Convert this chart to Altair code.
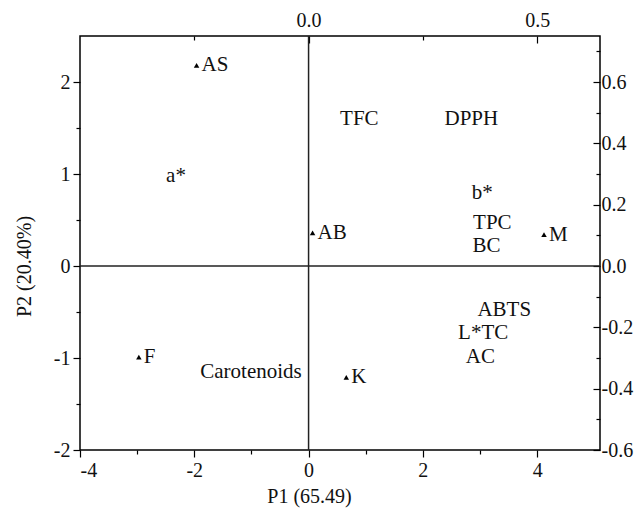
import altair as alt
import pandas as pd

# Scores (samples) on P1/P2
score_names = ["AS", "AB", "M", "F", "K"]
score_p1 = [-1.96, 0.07, 4.12, -2.97, 0.66]
score_p2 = [2.18, 0.36, 0.34, -0.99, -1.21]

# Loadings (variables) on top/right axes
load_names = ["TFC", "DPPH", "b*", "TPC", "BC", "ABTS", "L*TC", "AC", "Carotenoids", "a*"]
load_l1 = [0.111, 0.356, 0.380, 0.402, 0.389, 0.428, 0.382, 0.376, -0.126, -0.290]
load_l2 = [0.478, 0.478, 0.237, 0.140, 0.066, -0.143, -0.218, -0.296, -0.345, 0.293]

x_ticks = [-4, -3, -2, -1, 0, 1, 2, 3, 4]
y_ticks = [-2, -1.5, -1, -0.5, 0, 0.5, 1, 1.5, 2]
top_ticks = [-0.25, 0, 0.25, 0.5]
right_ticks = [-0.6, -0.5, -0.4, -0.3, -0.2, -0.1, 0, 0.1, 0.2, 0.3, 0.4, 0.5, 0.6, 0.7]
zero = [0]

FONT = "Liberation Serif"
FS = 20
TFS = 21
MINUS = "\u2212"

scores = pd.DataFrame({"name": score_names, "P1": score_p1, "P2": score_p2})
loads = pd.DataFrame({"name": load_names, "L1": load_l1, "L2": load_l2})
zeros = pd.DataFrame({"z": zero})

xs = alt.Scale(domain=[-4, 5.1], nice=False, zero=False)
ys = alt.Scale(domain=[-2, 2.5], nice=False, zero=False)
xs2 = alt.Scale(domain=[-0.5, 0.6375], nice=False, zero=False)
ys2 = alt.Scale(domain=[-0.6, 0.75], nice=False, zero=False)

x_axis = alt.Axis(
    values=x_ticks, orient="bottom", title="P1 (65.49)", grid=False,
    labelExpr="datum.value % 2 === 0 ? '' + datum.value : ''",
    tickSize={"condition": {"test": "datum.value % 2 === 0", "value": 7}, "value": 4},
    domain=False, labelPadding=3, titlePadding=6, titleX=229,
)
y_axis = alt.Axis(
    values=y_ticks, orient="left", title="P2 (20.40%)", grid=False,
    labelExpr="datum.value % 1 === 0 ? '' + datum.value : ''",
    tickSize={"condition": {"test": "datum.value % 1 === 0", "value": 7}, "value": 4},
    domain=False, labelPadding=3, titlePadding=19, titleY=230,
)
top_axis = alt.Axis(
    values=top_ticks, orient="top", title=None, grid=False,
    labelExpr=f"(datum.value === 0 || datum.value === 0.5) ? replace(format(datum.value, '.1f'), '{MINUS}', '-') : ''",
    tickSize=alt.ExprRef("(datum.value === 0 || datum.value === 0.5) ? -7 : -4"),
    domain=False, labelPadding=13,
)
right_axis = alt.Axis(
    values=right_ticks, orient="right", title=None, grid=False,
    labelExpr=f"round(datum.value * 10) % 2 === 0 ? replace(format(datum.value, '.1f'), '{MINUS}', '-') : ''",
    tickSize=alt.ExprRef("round(datum.value * 10) % 2 === 0 ? -7 : -4"),
    domain=False, labelPadding=8,
)

vline = alt.Chart(zeros).mark_rule(color="#222", strokeWidth=1.5).encode(
    x=alt.X("z:Q", scale=xs, axis=x_axis)
)
hline = alt.Chart(zeros).mark_rule(color="#222", strokeWidth=1.5).encode(
    y=alt.Y("z:Q", scale=ys, axis=y_axis)
)
pts = alt.Chart(scores).mark_point(
    shape="triangle-up", filled=True, color="black", size=30, opacity=1
).encode(
    x=alt.X("P1:Q", scale=xs, axis=x_axis),
    y=alt.Y("P2:Q", scale=ys, axis=y_axis),
)
plabels = alt.Chart(scores).mark_text(
    align="left", baseline="middle", dx=5, font=FONT, fontSize=TFS, color="#111"
).encode(
    x=alt.X("P1:Q", scale=xs, axis=x_axis),
    y=alt.Y("P2:Q", scale=ys, axis=y_axis),
    text="name:N",
)
score_layer = alt.layer(vline, hline, pts, plabels)

load_layer = alt.Chart(loads).mark_text(
    align="center", baseline="middle", font=FONT, fontSize=TFS, color="#111"
).encode(
    x=alt.X("L1:Q", scale=xs2, axis=top_axis),
    y=alt.Y("L2:Q", scale=ys2, axis=right_axis),
    text="name:N",
)

chart = alt.layer(score_layer, load_layer).resolve_scale(
    x="independent", y="independent"
).properties(
    width=520, height=414,
    padding={"left": 72, "top": 28, "right": 35, "bottom": 59},
    autosize=alt.AutoSizeParams(type="none"),
).configure_view(
    stroke="black", strokeWidth=1.5
).configure_axis(
    labelFont=FONT, titleFont=FONT, labelFontSize=FS, titleFontSize=FS,
    labelColor="#111", titleColor="#111", titleFontWeight="normal",
    tickColor="black", tickWidth=1.2,
)

chart.save("out.html", embed_options={"renderer": "svg", "actions": False})
